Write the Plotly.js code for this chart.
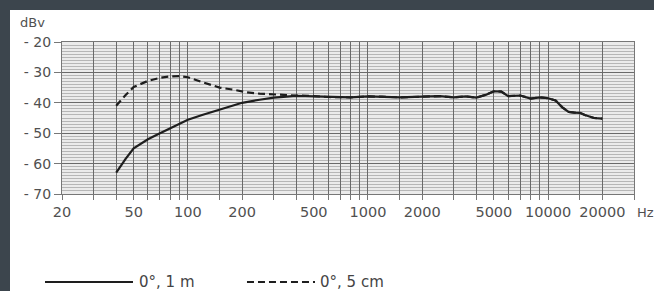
<!DOCTYPE html>
<html>
<head>
<meta charset="utf-8">
<script src="https://cdn.plot.ly/plotly-3.0.1.min.js"></script>
<style>
html,body{margin:0;padding:0;background:#3c454d;width:654px;height:291px;overflow:hidden;}
#chart{position:absolute;left:10px;top:10px;width:644px;height:281px;background:#fff;}
</style>
</head>
<body>
<div id="chart"></div>
<script>
// Frequencies (Hz)
const freqSolid = [40, 45, 50, 60, 70, 80, 90, 100, 120, 150, 180, 200, 250, 300, 400, 500, 600, 800, 1000, 1200, 1500, 2000, 2500, 3000, 3500, 4000, 4500, 5000, 5500, 6000, 7000, 8000, 9000, 10000, 11000, 12000, 13000, 14000, 15000, 16000, 18000, 20000];
// 0°, 1 m response (dBV)
const level1m = [-63, -58.5, -55, -52, -50, -48.3, -47, -45.6, -44, -42.3, -41, -40, -39, -38.3, -37.7, -37.8, -38.1, -38.2, -37.9, -38.0, -38.2, -38.0, -37.8, -38.2, -37.9, -38.3, -37.4, -36.2, -36.3, -37.8, -37.6, -38.6, -38.2, -38.5, -39.2, -41.5, -43.0, -43.2, -43.3, -44.0, -45.0, -45.2];
// 0°, 5 cm response (dBV)
const freqNear = [40, 45, 50, 60, 70, 80, 90, 100, 120, 150, 180, 210, 250, 300, 400, 500, 600, 800, 1000, 1200, 1500, 2000, 2500, 3000, 3500, 4000, 4500, 5000, 5500, 6000, 7000, 8000, 9000, 10000, 11000, 12000, 13000, 14000, 15000, 16000, 18000, 20000];
const level5cm = [-41, -37.5, -34.8, -32.8, -31.8, -31.3, -31.2, -31.6, -33.2, -35, -35.7, -36.5, -37, -37.3, -37.6, -37.8, -38.1, -38.2, -37.9, -38.0, -38.2, -38.0, -37.8, -38.2, -37.9, -38.3, -37.4, -36.2, -36.3, -37.8, -37.6, -38.6, -38.2, -38.5, -39.2, -41.5, -43.0, -43.2, -43.3, -44.0, -45.0, -45.2];

const gridFreqs = [20,30,40,50,60,70,80,90,100,150,200,300,400,500,600,700,800,900,1000,1500,2000,3000,4000,5000,6000,7000,8000,9000,10000,15000,20000,30000];
const labelFreqs = [20,50,100,200,500,1000,2000,5000,10000,20000];
const yTicks = [-20,-30,-40,-50,-60,-70];
const yTickText = ['- 20','- 30','- 40','- 50','- 60','- 70'];
const legendNames = ['0°, 1 m', '0°, 5 cm'];

const tickText = gridFreqs.map(f => labelFreqs.includes(f) ? String(f) : '');
const FF = 'DejaVu Sans, Verdana, sans-serif';
const TXT = '#505050';

const traces = [
  {x: freqSolid, y: level1m, mode: 'lines', name: legendNames[0],
   line: {color: '#1e1e1e', width: 2.2}, showlegend: false},
  {x: freqNear, y: level5cm, mode: 'lines', name: legendNames[1],
   line: {color: '#1e1e1e', width: 2.2, dash: '7px,4px'}, showlegend: false}
];

const LEGY = -0.579;

const layout = {
  width: 644, height: 281,
  margin: {l: 52, r: 20, t: 32, b: 97},
  paper_bgcolor: '#ffffff',
  plot_bgcolor: '#ebebeb',
  font: {family: FF, size: 14, color: TXT},
  xaxis: {
    type: 'log',
    range: [Math.log10(20), Math.log10(30000)],
    tickmode: 'array', tickvals: gridFreqs, ticktext: tickText,
    showgrid: true, gridcolor: '#6a6a6a', gridwidth: 1,
    ticks: 'outside', ticklen: 5, tickcolor: '#777',
    zeroline: false, showline: true, linecolor: '#777', mirror: true,
    tickfont: {family: FF, size: 14.5, color: TXT},
    fixedrange: true
  },
  yaxis: {
    range: [-70, -20],
    tickmode: 'array', tickvals: yTicks, ticktext: yTickText,
    showgrid: true, gridcolor: '#6a6a6a', gridwidth: 1,
    minor: {dtick: 1, showgrid: true, gridcolor: '#b6b6b6', gridwidth: 1, ticks: ''},
    ticks: 'outside', ticklen: 7, tickcolor: '#777',
    zeroline: false, showline: true, linecolor: '#777', mirror: true,
    tickfont: {family: FF, size: 14, color: TXT},
    fixedrange: true
  },
  annotations: [
    {text: 'dBv', xref: 'paper', yref: 'paper', x: 0, xshift: -44, y: 1.0, yshift: 20,
     xanchor: 'left', yanchor: 'middle', showarrow: false,
     font: {family: FF, size: 13, color: TXT}},
    {text: 'Hz', xref: 'paper', yref: 'paper', x: 1.0, xshift: 1, y: 0, yshift: -18,
     xanchor: 'left', yanchor: 'middle', showarrow: false,
     font: {family: FF, size: 13, color: TXT}},
    {text: legendNames[0], xref: 'paper', yref: 'paper', x: 0.1311, y: LEGY,
     xanchor: 'left', yanchor: 'middle', showarrow: false,
     font: {family: FF, size: 15, color: '#444'}},
    {text: legendNames[1], xref: 'paper', yref: 'paper', x: 0.4476, y: LEGY,
     xanchor: 'left', yanchor: 'middle', showarrow: false,
     font: {family: FF, size: 15, color: '#444'}}
  ],
  shapes: [
    {type: 'line', xref: 'paper', yref: 'paper', x0: -0.0297, x1: 0.1241, y0: LEGY, y1: LEGY,
     line: {color: '#1e1e1e', width: 2.2}},
    {type: 'line', xref: 'paper', yref: 'paper', x0: 0.3234, x1: 0.4423, y0: LEGY, y1: LEGY,
     line: {color: '#1e1e1e', width: 2.2, dash: '7px,4px'}}
  ]
};

Plotly.newPlot('chart', traces, layout, {displayModeBar: false, staticPlot: true});
</script>
</body>
</html>
